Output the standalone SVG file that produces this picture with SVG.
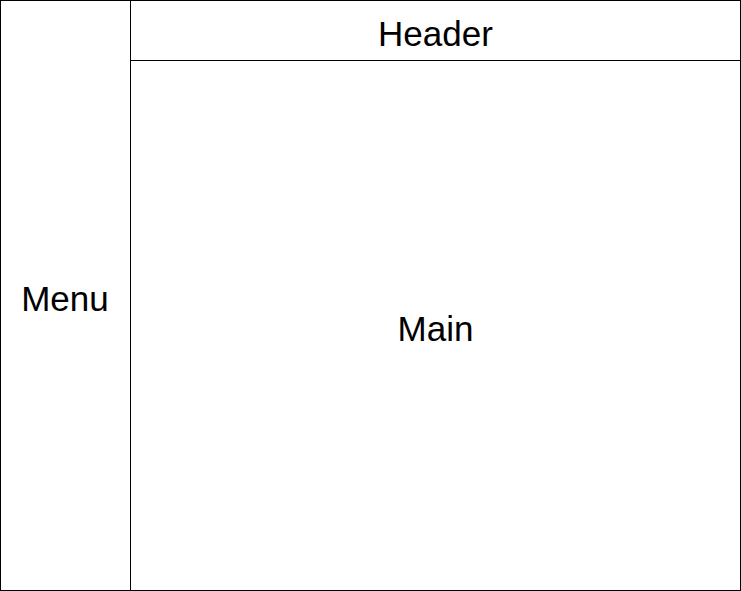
<svg xmlns="http://www.w3.org/2000/svg" width="741" height="591" viewBox="0 0 741 591">
<style>
.box{fill:#ffffff;stroke:#000000;stroke-width:1}
.lbl{font-family:"Liberation Sans",Arial,sans-serif;font-size:35px;fill:#000000;text-anchor:middle}
</style>
<rect x="0" y="0" width="741" height="591" fill="#ffffff"/>
<g id="menu">
<rect class="box" x="0.5" y="0.5" width="130" height="590"/>
<text class="lbl" x="65" y="311">Menu</text>
</g>
<g id="header">
<rect class="box" x="130.5" y="0.5" width="610" height="60"/>
<text class="lbl" x="435.5" y="46">Header</text>
</g>
<g id="main">
<rect class="box" x="130.5" y="60.5" width="610" height="530"/>
<text class="lbl" x="435.5" y="341">Main</text>
</g>
<g id="connectors"></g>
</svg>
